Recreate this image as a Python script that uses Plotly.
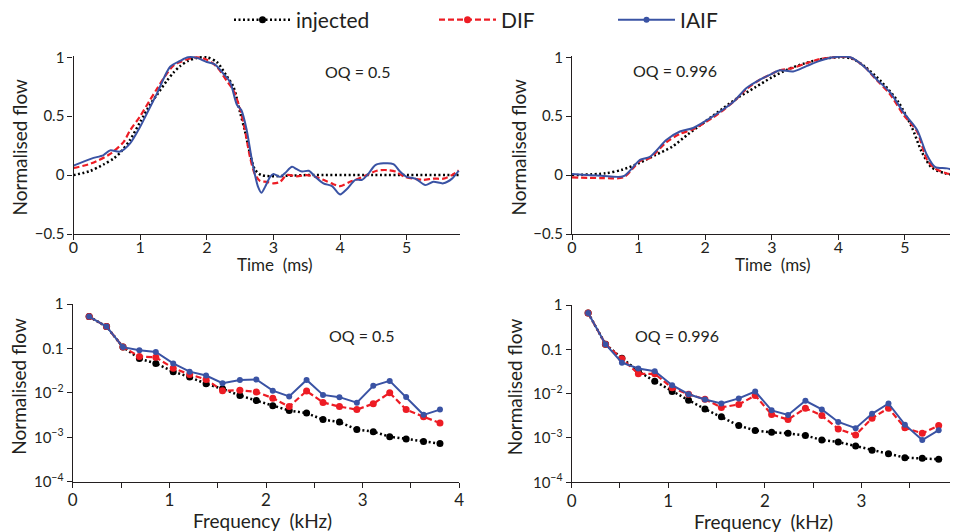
import plotly.graph_objects as go

# ---------------- data ----------------
# Top-left (OQ = 0.5), time in ms
tl_inj_t = [0, 0.25, 0.45, 0.6, 0.7, 0.85, 1.0, 1.15, 1.25, 1.4, 1.5, 1.6, 1.72, 1.85, 2.0, 2.15, 2.3, 2.4, 2.5, 2.57, 2.65, 2.72, 2.82, 3.5, 4.5, 5.78]
tl_inj_v = [0, 0.035, 0.09, 0.14, 0.19, 0.3, 0.45, 0.6, 0.68, 0.8, 0.87, 0.925, 0.97, 0.995, 1.0, 0.96, 0.84, 0.75, 0.53, 0.38, 0.18, 0.05, 0.0, 0, 0, 0]

tl_dif_t = [0, 0.27, 0.55, 0.75, 0.85, 1.0, 1.15, 1.25, 1.35, 1.5, 1.6, 1.75, 1.85, 2.0, 2.15, 2.3, 2.4, 2.5, 2.57, 2.65, 2.72, 2.8, 2.9, 3.0, 3.1, 3.2, 3.35, 3.5, 3.63, 3.75, 3.9, 4.0, 4.15, 4.28, 4.4, 4.55, 4.7, 4.83, 4.95, 5.1, 5.25, 5.4, 5.55, 5.68, 5.78]
tl_dif_v = [0.06, 0.1, 0.18, 0.28, 0.38, 0.5, 0.64, 0.73, 0.82, 0.93, 0.96, 0.99, 1.0, 0.98, 0.92, 0.8, 0.72, 0.56, 0.39, 0.15, 0.01, -0.05, -0.057, -0.07, -0.057, 0.0, -0.01, 0.0, -0.015, -0.04, -0.077, -0.094, -0.057, -0.03, 0.0, 0.037, 0.043, 0.03, -0.01, -0.03, -0.04, -0.03, -0.03, 0.0, 0.04]

tl_iaif_t = [0, 0.27, 0.45, 0.55, 0.7, 0.85, 1.0, 1.08, 1.25, 1.45, 1.6, 1.72, 1.85, 2.0, 2.12, 2.25, 2.35, 2.45, 2.52, 2.6, 2.67, 2.72, 2.77, 2.82, 2.875, 2.95, 3.0, 3.1, 3.17, 3.28, 3.35, 3.43, 3.53, 3.63, 3.75, 3.88, 4.0, 4.1, 4.23, 4.33, 4.43, 4.53, 4.65, 4.8, 4.9, 5.0, 5.13, 5.28, 5.4, 5.55, 5.68, 5.78]
tl_iaif_v = [0.08, 0.14, 0.17, 0.21, 0.2, 0.27, 0.41, 0.5, 0.69, 0.92, 0.97, 1.0, 0.995, 0.96, 0.94, 0.86, 0.79, 0.6, 0.55, 0.38, 0.15, 0.01, -0.1, -0.15, -0.1, -0.015, 0.01, -0.015, 0.015, 0.07, 0.05, 0.03, 0.037, -0.015, -0.07, -0.094, -0.164, -0.12, -0.04, -0.04, 0.015, 0.085, 0.1, 0.094, 0.03, -0.015, -0.03, -0.085, -0.057, -0.07, -0.03, 0.037]

# Top-right (OQ = 0.996)
tr_inj_t = [0, 0.5, 0.75, 1.0, 1.25, 1.5, 1.75, 2.0, 2.25, 2.5, 2.75, 3.0, 3.25, 3.5, 3.75, 4.0, 4.2, 4.4, 4.65, 4.9, 5.1, 5.25, 5.4, 5.6, 5.8]
tr_inj_v = [0, 0.015, 0.045, 0.1, 0.17, 0.24, 0.35, 0.455, 0.56, 0.66, 0.745, 0.83, 0.9, 0.95, 0.985, 1.0, 0.99, 0.92, 0.79, 0.62, 0.41, 0.2, 0.065, 0.015, 0]

tr_dif_t = [0, 0.44, 0.77, 0.92, 1.02, 1.17, 1.42, 1.62, 1.82, 2.12, 2.42, 2.62, 2.82, 3.0, 3.12, 3.32, 3.52, 3.72, 3.92, 4.17, 4.37, 4.57, 4.77, 4.98, 5.18, 5.33, 5.45, 5.63, 5.8]
tr_dif_v = [-0.02, -0.025, -0.02, 0.06, 0.12, 0.145, 0.28, 0.35, 0.39, 0.49, 0.62, 0.73, 0.81, 0.86, 0.89, 0.91, 0.95, 0.985, 1.0, 1.0, 0.93, 0.81, 0.69, 0.51, 0.37, 0.13, 0.057, 0.014, 0.0]

tr_iaif_t = [0, 0.44, 0.77, 0.92, 1.02, 1.17, 1.42, 1.62, 1.82, 2.12, 2.42, 2.62, 2.82, 3.0, 3.12, 3.32, 3.52, 3.72, 3.92, 4.18, 4.38, 4.58, 4.78, 4.98, 5.18, 5.33, 5.45, 5.63, 5.8]
tr_iaif_v = [0.01, -0.005, -0.01, 0.07, 0.13, 0.156, 0.3, 0.37, 0.4, 0.5, 0.62, 0.74, 0.81, 0.86, 0.89, 0.88, 0.925, 0.97, 1.0, 1.0, 0.925, 0.81, 0.7, 0.53, 0.385, 0.17, 0.07, 0.057, 0.03]

# Bottom: harmonic frequencies (kHz)
freq = [0.17, 0.35, 0.52, 0.69, 0.86, 1.04, 1.21, 1.38, 1.55, 1.73, 1.90, 2.07, 2.24, 2.42, 2.59, 2.76, 2.94, 3.11, 3.28, 3.45, 3.63, 3.80]

bl_inj = [0.52, 0.31, 0.107, 0.059, 0.046, 0.030, 0.0227, 0.016, 0.0123, 0.0087, 0.0067, 0.0051, 0.0040, 0.0035, 0.0025, 0.0022, 0.0015, 0.00134, 0.00103, 0.00092, 0.00080, 0.00072]
bl_dif = [0.52, 0.31, 0.107, 0.066, 0.063, 0.036, 0.026, 0.020, 0.0112, 0.0114, 0.0105, 0.0076, 0.0049, 0.011, 0.0061, 0.0049, 0.0042, 0.0057, 0.010, 0.0042, 0.0029, 0.0021]
bl_iaif = [0.52, 0.31, 0.107, 0.091, 0.083, 0.046, 0.030, 0.0245, 0.0165, 0.0195, 0.020, 0.0112, 0.0083, 0.0195, 0.009, 0.0080, 0.0060, 0.0144, 0.0186, 0.0081, 0.0032, 0.0042]

br_inj = [0.66, 0.13, 0.063, 0.032, 0.019, 0.0112, 0.0071, 0.0045, 0.0030, 0.0019, 0.00148, 0.00134, 0.00127, 0.00114, 0.0009, 0.00081, 0.00066, 0.00053, 0.00044, 0.00036, 0.00035, 0.00033]
br_dif = [0.66, 0.13, 0.061, 0.028, 0.028, 0.0135, 0.0097, 0.0075, 0.0049, 0.0057, 0.0091, 0.0034, 0.0026, 0.0047, 0.0032, 0.0016, 0.00117, 0.0028, 0.0047, 0.0017, 0.00127, 0.0019]
br_iaif = [0.66, 0.13, 0.050, 0.037, 0.032, 0.0155, 0.0097, 0.0074, 0.0060, 0.0078, 0.0112, 0.0042, 0.0033, 0.0069, 0.0044, 0.0023, 0.00166, 0.0035, 0.0060, 0.0020, 0.0009, 0.0015]

series_names = ["injected", "DIF", "IAIF"]
oq_labels = ["OQ = 0.5", "OQ = 0.996"]
lin_tickvals = [-0.5, 0, 0.5, 1]
lin_ticktext = ["\u22120.5", "0", "0.5", "1"]
time_tickvals = [0, 1, 2, 3, 4, 5]
freq_tickvals = [0, 1, 2, 3, 4]
log_tickvals = [1e-4, 1e-3, 1e-2, 0.1, 1]
log_ticktext = ["10<sup>\u22124</sup>", "10<sup>\u22123</sup>", "10<sup>\u22122</sup>", "0.1", "1"]

# ---------------- styling ----------------
# The page body has an 8px margin, so the figure is sized to fill the
# 958x532 window exactly and positions are given in window pixels.
OFF = 8
W, H = 958 - OFF, 532 - OFF
FONT = "Lato"
INK = "#231f20"
BLACK = "#000000"
RED = "#ed1c24"
BLUE = "#3a53a4"
DOT = "2px,2.5px"
DASH = "6px,3px"


def fx(p):
    return (p - OFF) / W


def fy(p):
    return 1 - (p - OFF) / H


fig = go.Figure()

styles = {
    "injected": dict(color=BLACK, width=2.5, dash=DOT),
    "DIF": dict(color=RED, width=2.2, dash=DASH),
    "IAIF": dict(color=BLUE, width=2, dash="solid"),
}
msize = {"injected": 7, "DIF": 7, "IAIF": 6}

top_sets = [
    ("x", "y", [(tl_inj_t, tl_inj_v), (tl_dif_t, tl_dif_v), (tl_iaif_t, tl_iaif_v)]),
    ("x2", "y2", [(tr_inj_t, tr_inj_v), (tr_dif_t, tr_dif_v), (tr_iaif_t, tr_iaif_v)]),
]
for xa, ya, sets in top_sets:
    for name, (t, v) in zip(series_names, sets):
        fig.add_trace(go.Scatter(
            x=t, y=v, mode="lines", name=name, showlegend=False,
            line=dict(shape="spline", smoothing=0.8, **styles[name]),
            xaxis=xa, yaxis=ya, hoverinfo="skip"))

bot_sets = [
    ("x3", "y3", [bl_inj, bl_dif, bl_iaif], True),
    ("x4", "y4", [br_inj, br_dif, br_iaif], False),
]
legend_ids = {"injected": "legend", "DIF": "legend2", "IAIF": "legend3"}
for xa, ya, sets, show in bot_sets:
    for name, vals in zip(series_names, sets):
        fig.add_trace(go.Scatter(
            x=freq, y=vals, mode="lines+markers", name=name, showlegend=show,
            legend=legend_ids[name],
            line=styles[name],
            marker=dict(color=styles[name]["color"], size=msize[name]),
            xaxis=xa, yaxis=ya, hoverinfo="skip"))


def axis(size, **kw):
    d = dict(showline=True, linecolor=INK, linewidth=1.3, ticks="outside",
             ticklen=5, tickwidth=1.3, tickcolor=INK, showgrid=False,
             zeroline=False, tickfont=dict(family=FONT, size=size, color=INK),
             ticklabeloverflow="allow", automargin=False)
    d.update(kw)
    return d


minor_half = dict(ticks="outside", dtick=0.5, ticklen=5, tickwidth=1.3, tickcolor=INK, showgrid=False)

y_top_dom = [fy(234), fy(55.9)]
fig.update_layout(
    width=W, height=H,
    margin=dict(l=0, r=0, t=0, b=0, autoexpand=False),
    paper_bgcolor="white", plot_bgcolor="white",
    font=dict(family=FONT, color=INK),
    xaxis=axis(16, domain=[fx(73.5), fx(460)], range=[0, 5.8], tickvals=time_tickvals,
               anchor="y", ticklabelstandoff=-6),
    yaxis=axis(15, domain=y_top_dom, range=[-0.5, 1.012], tickvals=lin_tickvals,
               ticktext=lin_ticktext, anchor="x"),
    xaxis2=axis(16, domain=[fx(572), 1], range=[0, 5.796], tickvals=time_tickvals,
                anchor="y2", ticklabelstandoff=-6),
    yaxis2=axis(15, domain=y_top_dom, range=[-0.5, 1.012], tickvals=lin_tickvals,
                ticktext=lin_ticktext, anchor="x2"),
    xaxis3=axis(17, domain=[fx(72.7), fx(459.3)], range=[0, 4], tickvals=freq_tickvals,
                anchor="y3", minor=minor_half, ticklabelstandoff=-2),
    yaxis3=axis(15, domain=[fy(481.7), fy(304)], type="log", range=[-4, 0], tickvals=log_tickvals,
                ticktext=log_ticktext, anchor="x3"),
    xaxis4=axis(17, domain=[fx(571.7), 1], range=[0, 4.0], tickvals=freq_tickvals,
                anchor="y4", minor=minor_half, ticklabelstandoff=-2),
    yaxis4=axis(15, domain=[fy(482.3), fy(305)], type="log", range=[-4, 0], tickvals=log_tickvals,
                ticktext=log_ticktext, anchor="x4"),
)

leg_common = dict(orientation="h", xanchor="left", yanchor="middle", y=fy(20),
                  bgcolor="rgba(0,0,0,0)", borderwidth=0, itemwidth=57,
                  font=dict(family=FONT, size=21, color=INK))
fig.update_layout(
    legend=dict(x=fx(229), **leg_common),
    legend2=dict(x=fx(434), **leg_common),
    legend3=dict(x=fx(613), **leg_common),
)

ann = []
for (px, py) in [(19, 147.5), (518, 147.5), (19, 386.7), (514.5, 386.7)]:
    ann.append(dict(text="Normalised flow", x=fx(px), y=fy(py), xref="paper", yref="paper",
                    textangle=-90, showarrow=False, font=dict(family=FONT, size=19, color=INK),
                    xanchor="center", yanchor="middle"))
for (px, py) in [(274.5, 264.5), (773, 264.5)]:
    ann.append(dict(text="Time  (ms)", x=fx(px), y=fy(py), xref="paper", yref="paper",
                    showarrow=False, font=dict(family=FONT, size=17, color=INK),
                    xanchor="center", yanchor="middle"))
for (px, py) in [(262, 520), (763, 521)]:
    ann.append(dict(text="Frequency  (kHz)", x=fx(px), y=fy(py), xref="paper", yref="paper",
                    showarrow=False, font=dict(family=FONT, size=19, color=INK),
                    xanchor="center", yanchor="middle"))
for text, (px, py) in zip([oq_labels[0], oq_labels[1], oq_labels[0], oq_labels[1]],
                          [(357, 71.7), (674.5, 70.7), (361.7, 335), (677, 335)]):
    ann.append(dict(text=text, x=fx(px), y=fy(py), xref="paper", yref="paper",
                    showarrow=False, font=dict(family=FONT, size=16, color=INK),
                    xanchor="center", yanchor="middle"))
fig.update_layout(annotations=ann)

fig.write_html("out.html")
